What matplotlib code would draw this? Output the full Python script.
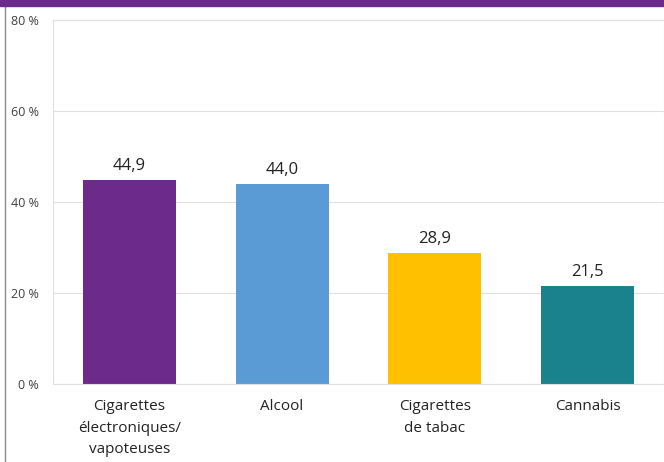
import matplotlib.pyplot as plt
from matplotlib.patches import Rectangle
from matplotlib.lines import Line2D

categories = ["Cigarettes\nélectroniques/\nvapoteuses", "Alcool", "Cigarettes\nde tabac", "Cannabis"]
values = [44.9, 44.0, 28.9, 21.5]
colors = ["#6C2A8B", "#5B9BD5", "#FFC000", "#1A828C"]
yticks = [0, 20, 40, 60, 80]

plt.rcParams["font.family"] = ["Open Sans", "DejaVu Sans"]

fig = plt.figure(figsize=(6.64, 4.62), dpi=100)
ax = fig.add_axes([53 / 664, 78 / 462, 611 / 664, 364 / 462])

x = range(len(categories))
ax.bar(x, values, width=0.61, color=colors, zorder=2)
for xi, v in zip(x, values):
    ax.text(xi, v + 1.3, f"{v:.1f}".replace(".", ","), ha="center", va="bottom",
            fontsize=12, color="#222222")

ax.set_xlim(-0.5, len(categories) - 0.5)
ax.set_ylim(0, 80)
ax.set_yticks(yticks)
ax.set_yticklabels([f"{t} %" for t in yticks], fontsize=9, color="#404040")
ax.set_xticks(list(x))
ax.set_xticklabels(categories, fontsize=11, color="#222222", linespacing=1.6)
ax.tick_params(axis="both", length=0)
ax.tick_params(axis="y", pad=10)
ax.tick_params(axis="x", pad=11)
ax.grid(axis="y", color="#e0e0e0", linewidth=0.8, zorder=0)
for s in ax.spines.values():
    s.set_color("#e0e0e0")
    s.set_linewidth(0.8)

# purple band at the top and grey border on the left
fig.patches.append(Rectangle((0, 1 - 6 / 462), 1, 6 / 462, transform=fig.transFigure,
                             color="#6C2A8B", zorder=5))
fig.lines.append(Line2D([5 / 664, 5 / 664], [0, 1 - 6 / 462], transform=fig.transFigure,
                        color="#8c8c8c", linewidth=1))

fig.savefig("out.png", dpi=100)
